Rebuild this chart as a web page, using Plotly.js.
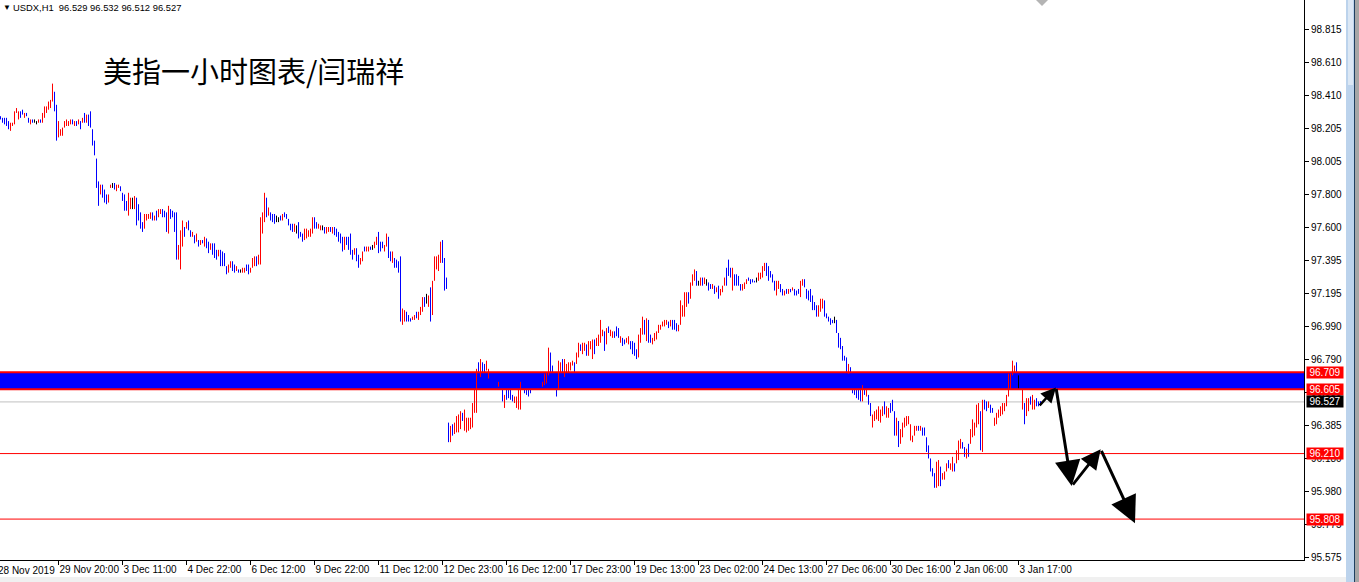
<!DOCTYPE html>
<html><head><meta charset="utf-8">
<script src="https://cdn.plot.ly/plotly-3.0.1.min.js"></script>
<style>html,body{margin:0;padding:0;background:#fff;overflow:hidden}#chart{width:1359px;height:582px}</style>
</head><body><div id="chart"></div>
<script>
// ---- hourly USDX bars ----
const highs = [
98.28,98.27,98.27,98.27,98.25,98.24,98.24,98.31,98.33,98.31,
98.31,98.32,98.30,98.30,98.27,98.26,98.26,98.26,98.25,98.26,
98.26,98.30,98.34,98.34,98.37,98.38,98.48,98.43,98.35,98.25,
98.20,98.21,98.25,98.26,98.25,98.26,98.26,98.25,98.25,98.26,
98.25,98.27,98.30,98.29,98.29,98.31,98.20,98.13,98.02,97.88,
97.86,97.86,97.83,97.80,97.80,97.86,97.87,97.87,97.86,97.86,
97.85,97.81,97.80,97.76,97.81,97.78,97.78,97.79,97.78,97.74,
97.69,97.63,97.68,97.68,97.68,97.69,97.69,97.67,97.70,97.71,
97.71,97.71,97.70,97.69,97.73,97.71,97.70,97.69,97.69,97.49,
97.58,97.64,97.60,97.63,97.64,97.58,97.57,97.55,97.56,97.52,
97.52,97.52,97.54,97.53,97.51,97.50,97.50,97.50,97.46,97.46,
97.46,97.45,97.44,97.36,97.37,97.39,97.39,97.37,97.36,97.34,
97.34,97.35,97.35,97.37,97.37,97.35,97.41,97.42,97.42,97.43,
97.66,97.69,97.81,97.78,97.72,97.69,97.68,97.68,97.67,97.66,
97.67,97.68,97.69,97.68,97.65,97.62,97.62,97.62,97.61,97.63,
97.57,97.56,97.59,97.59,97.58,97.59,97.66,97.66,97.63,97.62,
97.61,97.61,97.60,97.60,97.60,97.60,97.60,97.60,97.59,97.57,
97.56,97.54,97.54,97.54,97.54,97.56,97.46,97.47,97.47,97.43,
97.41,97.45,97.48,97.48,97.48,97.48,97.49,97.51,97.54,97.57,
97.51,97.51,97.49,97.56,97.54,97.45,97.45,97.41,97.40,97.39,
97.42,97.10,97.09,97.08,97.06,97.04,97.05,97.06,97.08,97.08,
97.11,97.17,97.17,97.19,97.18,97.23,97.27,97.42,97.42,97.43,
97.51,97.52,97.41,97.29,
96.40,96.38,96.39,96.40,96.44,96.45,96.47,96.46,96.48,96.43,
96.43,96.43,96.52,96.60,96.73,96.77,96.79,96.77,96.76,96.78,
96.73,96.70,96.69,96.68,96.67,96.65,96.64,96.60,96.57,96.66,
96.60,96.60,96.57,96.56,96.56,96.60,96.65,96.65,96.60,96.60,
96.60,96.60,96.62,96.64,96.65,96.66,96.65,96.65,96.70,96.71,
96.86,96.83,96.75,96.71,96.68,96.78,96.77,96.79,96.79,96.76,
96.77,96.77,96.78,96.77,96.83,96.89,96.88,96.89,96.89,96.88,
96.90,96.90,96.91,96.91,96.92,96.94,97.03,96.97,96.96,96.98,
96.99,96.97,96.96,96.96,96.99,96.98,96.93,96.92,96.91,96.92,
96.93,96.90,96.90,96.89,96.85,96.94,96.98,97.05,97.03,97.04,97.03,
96.94,96.92,96.95,96.96,97.00,97.00,97.02,97.03,97.03,97.02,
97.03,97.03,97.03,97.01,97.00,97.15,97.12,97.20,97.20,97.20,
97.26,97.31,97.34,97.33,97.27,97.29,97.29,97.29,97.28,97.26,
97.25,97.25,97.24,97.23,97.24,97.22,97.24,97.29,97.35,97.40,
97.35,97.35,97.31,97.31,97.30,97.25,97.25,97.26,97.28,97.29,
97.28,97.28,97.27,97.29,97.32,97.32,97.36,97.38,97.38,97.36,
97.33,97.31,97.27,97.27,97.27,97.25,97.22,97.21,97.22,97.22,
97.22,97.23,97.22,97.21,97.22,97.27,97.28,97.28,97.22,97.21,
97.22,97.18,97.14,97.12,97.12,97.16,97.16,97.15,97.07,97.05,
97.04,97.03,97.05,97.03,96.95,96.92,96.87,96.81,96.80,96.76,
96.74,96.70,96.66,96.64,96.62,96.61,96.63,96.62,96.60,96.57,
96.52,96.45,96.47,96.48,96.50,96.48,96.50,96.53,96.50,96.49,
96.52,96.54,96.47,96.43,96.41,96.36,96.40,96.43,96.44,96.44,
96.39,96.32,96.38,96.38,96.38,96.38,96.37,96.37,96.31,96.26,
96.18,96.12,96.09,96.16,96.17,96.13,96.09,96.10,96.15,96.17,
96.15,96.19,96.15,96.23,96.29,96.30,96.28,96.25,96.24,96.27,
96.36,96.42,96.40,96.51,96.52,96.47,96.54,96.54,96.53,96.53,
96.51,96.49,96.43,96.46,96.48,96.50,96.52,96.52,96.57,96.70,
96.70,96.78,96.75,96.77,96.69,96.64,96.60,96.52,96.55,96.55,
96.56,96.57,96.54,96.55,96.53,96.532
];
const lows = [
98.26,98.24,98.23,98.22,98.20,98.19,98.22,98.23,98.30,98.26,
98.27,98.29,98.27,98.28,98.24,98.23,98.24,98.24,98.23,98.24,
98.24,98.24,98.27,98.30,98.32,98.33,98.37,98.31,98.13,98.15,
98.16,98.16,98.21,98.22,98.22,98.23,98.23,98.22,98.22,98.23,
98.20,98.24,98.24,98.24,98.22,98.21,98.10,98.04,97.84,97.73,
97.80,97.78,97.75,97.74,97.75,97.84,97.84,97.83,97.82,97.84,
97.82,97.76,97.70,97.70,97.67,97.71,97.71,97.71,97.61,97.64,
97.59,97.57,97.59,97.64,97.65,97.65,97.64,97.64,97.64,97.66,
97.68,97.66,97.66,97.57,97.56,97.65,97.66,97.57,97.40,97.40,
97.34,97.48,97.54,97.59,97.58,97.54,97.54,97.50,97.51,97.48,
97.49,97.50,97.48,97.47,97.44,97.46,97.43,97.41,97.40,97.42,
97.36,97.36,97.36,97.31,97.32,97.35,97.33,97.32,97.33,97.32,
97.32,97.32,97.32,97.33,97.31,97.32,97.35,97.36,97.36,97.37,
97.37,97.56,97.63,97.66,97.67,97.64,97.63,97.62,97.63,97.63,
97.64,97.64,97.66,97.65,97.61,97.58,97.57,97.57,97.56,97.53,
97.54,97.51,97.52,97.53,97.54,97.54,97.56,97.59,97.59,97.59,
97.58,97.58,97.56,97.56,97.57,97.57,97.56,97.55,97.54,97.51,
97.50,97.45,97.46,97.49,97.46,97.43,97.40,97.43,97.39,97.35,
97.37,97.39,97.45,97.45,97.45,97.46,97.46,97.47,97.49,97.44,
97.45,97.47,97.45,97.48,97.41,97.39,97.38,97.35,97.35,97.32,
97.02,97.00,97.02,97.02,97.02,97.02,97.03,97.03,97.04,97.03,
97.06,97.08,97.11,97.13,97.11,97.02,97.06,97.27,97.34,97.33,
97.38,97.38,97.21,97.22,
96.28,96.28,96.32,96.33,96.34,96.34,96.36,96.41,96.35,96.34,
96.35,96.36,96.37,96.46,96.46,96.61,96.68,96.71,96.70,96.72,
96.67,96.65,96.63,96.62,96.62,96.62,96.61,96.53,96.49,96.54,
96.55,96.54,96.53,96.52,96.49,96.48,96.48,96.60,96.58,96.57,
96.56,96.58,96.60,96.60,96.62,96.62,96.61,96.62,96.63,96.64,
96.69,96.71,96.71,96.60,96.56,96.60,96.71,96.71,96.68,96.71,
96.71,96.72,96.75,96.71,96.76,96.80,96.84,96.82,96.84,96.81,
96.81,96.85,96.79,96.82,96.87,96.87,96.89,96.93,96.84,96.88,
96.95,96.93,96.92,96.92,96.93,96.92,96.89,96.87,96.88,96.89,
96.88,96.85,96.82,96.81,96.79,96.80,96.89,96.94,96.94,96.90,96.89,
96.89,96.88,96.90,96.91,96.95,96.97,96.99,96.99,97.00,96.98,
96.99,96.97,96.97,96.96,96.96,97.00,97.05,97.05,97.11,97.13,
97.16,97.24,97.27,97.24,97.24,97.24,97.24,97.25,97.24,97.21,
97.22,97.22,97.19,97.20,97.16,97.18,97.20,97.24,97.24,97.30,
97.29,97.21,97.24,97.24,97.24,97.21,97.21,97.22,97.25,97.27,
97.25,97.26,97.26,97.26,97.27,97.28,97.29,97.33,97.30,97.27,
97.29,97.26,97.21,97.18,97.22,97.20,97.18,97.18,97.19,97.19,
97.20,97.21,97.18,97.18,97.19,97.17,97.24,97.23,97.16,97.15,
97.14,97.09,97.09,97.05,97.05,97.08,97.10,97.05,97.04,97.02,
97.00,97.01,97.01,96.95,96.86,96.85,96.78,96.78,96.70,96.70,
96.70,96.58,96.57,96.55,96.54,96.53,96.53,96.57,96.56,96.51,
96.44,96.37,96.41,96.42,96.41,96.40,96.44,96.45,96.43,96.43,
96.46,96.47,96.32,96.32,96.25,96.27,96.31,96.37,96.38,96.39,
96.29,96.28,96.32,96.35,96.35,96.35,96.32,96.32,96.22,96.18,
96.10,96.07,96.00,96.00,96.01,96.01,96.05,96.05,96.10,96.12,
96.11,96.10,96.10,96.15,96.17,96.24,96.24,96.19,96.18,96.19,
96.27,96.31,96.32,96.37,96.39,96.23,96.22,96.48,96.47,96.49,
96.46,96.46,96.38,96.39,96.43,96.44,96.45,96.47,96.50,96.56,
96.60,96.69,96.71,96.66,96.60,96.60,96.48,96.39,96.44,96.47,
96.51,96.48,96.48,96.50,96.50,96.512
];
// u = up bar (red), d = down bar (blue), n = unchanged (black)
const dirs = [
"ddddduuuuu","dduddudnnu","duuuuuuddu","uuuuuududu","dududddddd",
"uddduunduu","dddduunudd","dduuuududu","uddduddddu","uududdudud",
"ududdudddu","dddduuddud","nuudduuudu","uuududddnn","dudddddund",
"dduuuuuddu","unduududdd","dduddddudd","uuduudnuud","dduudduddd",
"duuddduudu","uudnuduuuu","uddd",
"duduuuuduu","uuuuududdu","udddduddud","ddduuuuddd","ddddddduuu",
"udddduuduu","uuuduuduud","uuuduuuudu","duuddduddu","udddduuudud",
"duuuuuuuud","uddduuuuud","uuudnudund","dududuuudd","dudddduuud",
"dddnuuuudd","ddduuddudu","duddduuddd","dddduuuddd","ddnddddddu",
"ddddddudud","duuuuuuduu","ddduduuuuu","uuuududddd","ddduuduuud",
"uuduuuddud","uuuuududdu","dduuuuuuuu","uuudnduduu","duuddd"
].join("");

// ---- axes ----
const priceTicks = [98.815,98.610,98.410,98.205,98.005,97.800,97.600,97.395,97.195,96.990,96.790,96.585,96.385,96.180,95.980,95.775,95.575];
const priceTickText = ["98.815","98.610","98.410","98.205","98.005","97.800","97.600","97.395","97.195","96.990","96.790","96.585","96.385","96.180","95.980","95.775","95.575"];
const timeLabels = ["29 Nov 20:00","3 Dec 11:00","4 Dec 22:00","6 Dec 12:00","9 Dec 22:00","11 Dec 12:00","12 Dec 23:00","16 Dec 12:00","17 Dec 23:00","19 Dec 13:00","23 Dec 02:00","24 Dec 13:00","27 Dec 06:00","30 Dec 16:00","2 Jan 06:00","3 Jan 17:00"];
const timeLabelBars = [30,62,94,126,158,190,222,254,286,318,350,382,414,446,478,510];
const firstLabel = "28 Nov 2019";

// ---- drawn levels ----
const zoneTop = 96.709, zoneBottom = 96.605;
const supportLevels = [96.210, 95.808];
const bidPrice = 96.527;
const header = "USDX,H1  96.529 96.532 96.512 96.527";
const titleText = "美指一小时图表/闫瑞祥";
// forecast arrow path (bar index, price)
const arrowPath = [[519.9,96.497],[528.75,96.616],[536.6,96.011],[551.1,96.236],[568.25,95.782]];

const FONT = "Liberation Sans, Arial, sans-serif";
const groups = {u:{x:[],y:[],c:"#ff0000"}, d:{x:[],y:[],c:"#0000ff"}, n:{x:[],y:[],c:"#000000"}};
for (let i = 0; i < highs.length; i++) {
  const g = groups[dirs[i]] || groups.d;
  const n = i + 1;
  g.x.push(n, n, null);
  g.y.push(lows[i], highs[i], null);
}
const traces = ["d","u","n"].map(k => ({
  type:"scatter", mode:"lines", x:groups[k].x, y:groups[k].y,
  line:{color:groups[k].c, width:1}, hoverinfo:"skip", connectgaps:false
}));

const W = 1304, H = 560;
const shapes = [
  {type:"rect", xref:"paper", yref:"y", x0:0, x1:1, y0:zoneBottom, y1:zoneTop, fillcolor:"#0000ff", line:{width:0}, layer:"below"},
  {type:"line", xref:"paper", yref:"y", x0:0, x1:1, y0:bidPrice, y1:bidPrice, line:{color:"#c0c0c0", width:1}, layer:"below"},
  {type:"line", xref:"paper", yref:"y", x0:0, x1:1, y0:zoneTop, y1:zoneTop, line:{color:"#ff0000", width:2}},
  {type:"line", xref:"paper", yref:"y", x0:0, x1:1, y0:zoneBottom, y1:zoneBottom, line:{color:"#ff0000", width:2}},
  // chart-shift marker
  {type:"path", xref:"paper", yref:"paper", path:`M ${1036/W} 1 L ${1048/W} 1 L ${1042/W} ${1-6/H} Z`, fillcolor:"#b4b4b4", line:{width:0}},
  // window frame: bottom strip & scrollbar
  {type:"rect", xref:"paper", yref:"paper", x0:0, x1:1346/W, y0:-22/H, y1:-17/H, fillcolor:"#f0f0f0", line:{width:0}},
  {type:"rect", xref:"paper", yref:"paper", x0:1346/W, x1:1354/W, y0:-22/H, y1:1, fillcolor:"#bcd3ec", line:{width:0}},
  {type:"rect", xref:"paper", yref:"paper", x0:1348/W, x1:1353/W, y0:1-85/H, y1:1, fillcolor:"#dbe7f4", line:{width:0}},
  {type:"line", xref:"paper", yref:"paper", x0:1354.5/W, x1:1354.5/W, y0:-22/H, y1:1, line:{color:"#1f3f5f", width:1}},
  {type:"rect", xref:"paper", yref:"paper", x0:1355/W, x1:1360/W, y0:-22/H, y1:1, fillcolor:"#a6a6a6", line:{width:0}}
];
supportLevels.forEach(v => shapes.push({type:"line", xref:"paper", yref:"y", x0:0, x1:1, y0:v, y1:v, line:{color:"#ff0000", width:1}}));

const priceBox = (v, bg) => ({xref:"paper", yref:"y", x:1, y:v, xanchor:"left", yanchor:"middle", xshift:2,
  text:v.toFixed(3), showarrow:false, bgcolor:bg, borderpad:0, width:36, align:"center",
  font:{family:FONT, size:10, color:"#ffffff"}});

const annotations = [
  priceBox(zoneTop, "#ff0000"), priceBox(zoneBottom, "#ff0000"), priceBox(bidPrice, "#000000"),
  ...supportLevels.map(v => priceBox(v, "#ff0000")),
  {xref:"paper", yref:"paper", x:0, y:1, xanchor:"left", yanchor:"middle", xshift:1, yshift:-7, text:"▼", showarrow:false, font:{family:FONT, size:8, color:"#000"}},
  {xref:"paper", yref:"paper", x:0, y:1, xanchor:"left", yanchor:"middle", xshift:11, yshift:-7, text:header, showarrow:false, font:{family:FONT, size:9.4, color:"#000"}},
  {xref:"paper", yref:"paper", x:0, y:1, xanchor:"left", yanchor:"middle", xshift:101, yshift:-70, text:titleText, showarrow:false, font:{family:"Noto Sans CJK SC, sans-serif", size:29, color:"#000"}},
  {xref:"paper", yref:"paper", x:0, y:0, xanchor:"left", yanchor:"top", xshift:-4, yshift:-3, text:firstLabel, showarrow:false, font:{family:FONT, size:10, color:"#000"}}
];
const arrowStyle = [{w:2.5, s:1.2}, {w:3, s:1.7}, {w:2.8, s:1.4}, {w:3, s:1.8}];
for (let i = 1; i < arrowPath.length; i++) {
  const [ax, ay] = arrowPath[i-1], [x, y] = arrowPath[i];
  const st = arrowStyle[i-1];
  annotations.push({xref:"x", yref:"y", axref:"x", ayref:"y", x:x, y:y, ax:ax, ay:ay, text:"", showarrow:true,
    arrowhead:2, arrowsize:st.s, arrowwidth:st.w, arrowcolor:"#000"});
}

const layout = {
  width:1359, height:582, margin:{l:0, r:55, t:0, b:22, pad:0},
  paper_bgcolor:"#ffffff", plot_bgcolor:"#ffffff", showlegend:false,
  xaxis:{range:[0.75, 652.75], showgrid:false, zeroline:false, showline:true, linecolor:"#000", linewidth:1,
    ticks:"outside", ticklen:4, tickcolor:"#000", tickwidth:1, tickvals:timeLabelBars, ticktext:timeLabels,
    tickangle:0, ticklabelposition:"outside right", tickfont:{family:FONT, size:10, color:"#000"}, fixedrange:true},
  yaxis:{range:[95.557, 98.993], side:"right", showgrid:false, zeroline:false, showline:true, linecolor:"#000", linewidth:1,
    ticks:"outside", ticklen:4, tickcolor:"#000", tickwidth:1, tickvals:priceTicks, ticktext:priceTickText,
    tickfont:{family:FONT, size:10, color:"#000"}, fixedrange:true},
  shapes:shapes, annotations:annotations
};
Plotly.newPlot("chart", traces, layout, {staticPlot:true, displayModeBar:false});
</script></body></html>
